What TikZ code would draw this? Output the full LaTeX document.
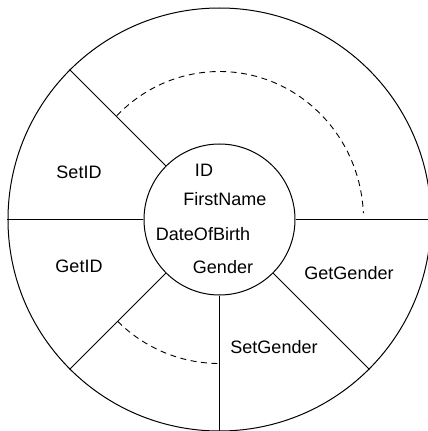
\documentclass[tikz,border=0pt]{standalone}
\usepackage{fontspec}
\setmainfont{Liberation Sans}
\begin{document}
\begin{tikzpicture}[x=1pt,y=1pt,
  ring/.style={draw,circle,line width=1pt,inner sep=0pt},
  spoke/.style={line width=1pt},
  flow/.style={line width=0.9pt,dash pattern=on 6pt off 4.5pt},
  lbl/.style={font=\fontsize{18}{20}\selectfont,inner sep=0pt}]
\useasboundingbox (-219.5,-211.5) rectangle (208.5,219.5);
\clip (-219.5,-211.5) rectangle (208.5,219.5);
\node[ring,minimum size=423] (outer) at (0,0) {};
\node[ring,minimum size=151] (core) at (0,0) {};
\foreach \a in {0,135,180,225,270,315}
  \draw[spoke] (core.\a) -- (outer.\a);
\coordinate (ua) at (135.5:144 and 148);
\draw[flow] (ua) arc[start angle=135.5,end angle=2.5,x radius=144,y radius=148];
\coordinate (la) at (225:144);
\draw[flow] (la) arc[start angle=225,end angle=270,radius=144];
\node[lbl] (setid) at (-140.5,47.5) {SetID};
\node[lbl] (getid) at (-140.5,-46.5) {GetID};
\node[lbl] (getgender) at (129.5,-53.5) {GetGender};
\node[lbl] (setgender) at (54.5,-127.5) {SetGender};
\node[lbl] (id) at (-15.5,49.5) {ID};
\node[lbl] (firstname) at (5.5,20.5) {FirstName};
\node[lbl] (dob) at (-16.5,-14.5) {DateOfBirth};
\node[lbl] (gender) at (3.5,-47.5) {Gender};
\end{tikzpicture}
\end{document}
